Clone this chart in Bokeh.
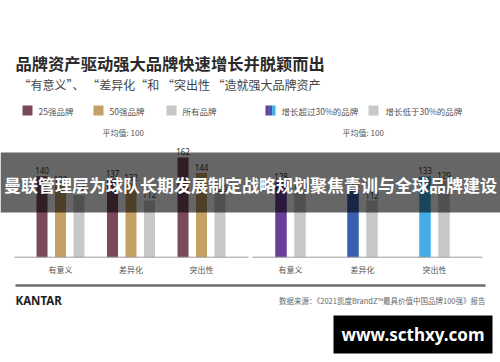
from bokeh.plotting import figure
from bokeh.models import Range1d, ColumnDataSource
from bokeh.transform import dodge
from bokeh.core.properties import value
from bokeh.embed import file_html
from bokeh.resources import INLINE

# ---------------- data ----------------
categories = ["有意义", "差异化", "突出性"]
top25 = [140, 137, 162]
top50 = [130, 132, 144]
all_brands = [118, 112, 120]
growth_over30 = [128, 122, 133]
growth_under30 = [120, 112, 129]
left_legend = ["25强品牌", "50强品牌", "所有品牌"]
right_legend = ["增长超过30%的品牌", "增长低于30%的品牌"]
average_label = "平均值: 100"

title = "品牌资产驱动强大品牌快速增长并脱颖而出"
subtitle = "“有意义”、 “差异化“和 “突出性 “造就强大品牌资产"
source_note = "数据来源：《2021凯度BrandZ™最具价值中国品牌100强》报告"
banner_text = "曼联管理层为球队长期发展制定战略规划聚焦青训与全球品牌建设"
watermark = "www.scthxy.com"

CJK = value("Noto Sans CJK SC")
C25, C50, CALL = "#7a4a5c", "#c4a064", "#c8c8c8"
CPUR, CBLU, CLBL = "#6a3f98", "#3a5fb0", "#45ade6"

# ---------------- canvas (page pixel coordinates) ----------------
W, H = 500, 362
p = figure(width=W, height=H, x_range=Range1d(0, W), y_range=Range1d(H, 0),
           output_backend="svg", toolbar_location=None, min_border=0,
           x_axis_location=None, y_axis_location=None,
           outline_line_color=None, background_fill_color="white")
p.grid.visible = False


def xspan(px0, px_per_unit):
    return Range1d((0 - px0) / px_per_unit, (W - px0) / px_per_unit)


def yspan(px_base, base_val, units_per_px):
    return Range1d(base_val - (H - px_base) * units_per_px,
                   base_val + px_base * units_per_px)


BASE_PX = 256.7
L_BASE, R_BASE = 46, 62.7
p.extra_x_ranges = {"lx": xspan(60, 70.5), "rx": xspan(290, 72)}
p.extra_y_ranges = {"ly": yspan(BASE_PX, L_BASE, 1.163), "ry": yspan(BASE_PX, R_BASE, 0.87)}

src = ColumnDataSource(dict(
    x=[0, 1, 2], cat=categories,
    t25=top25, t50=top50, tall=all_brands, g30=growth_over30, g_lo=growth_under30,
    c_g30=[CPUR, CBLU, CLBL],
    l25=[str(v) for v in top25], l50=[str(v) for v in top50], lall=[str(v) for v in all_brands],
    lg30=[str(v) for v in growth_over30], lglo=[str(v) for v in growth_under30],
))

lab_kw = dict(text_font=value("Noto Sans"), text_font_size="8px", text_color="#333333",
              text_align="center", text_baseline="bottom", y_offset=-2, source=src)

# left panel
for col, lab, off, color in [("t25", "l25", -0.262, C25), ("t50", "l50", 0.0, C50), ("tall", "lall", 0.262, CALL)]:
    p.vbar(x=dodge("x", off), width=0.156, bottom=L_BASE, top=col, fill_color=color,
           line_color=None, source=src, x_range_name="lx", y_range_name="ly")
    p.text(x=dodge("x", off), y=col, text=lab, x_range_name="lx", y_range_name="ly", **lab_kw)

# right panel
for col, lab, off, color in [("g30", "lg30", -0.132, "c_g30"), ("g_lo", "lglo", 0.132, CALL)]:
    p.vbar(x=dodge("x", off), width=0.16, bottom=R_BASE, top=col, fill_color=color,
           line_color=None, source=src, x_range_name="rx", y_range_name="ry")
    p.text(x=dodge("x", off), y=col, text=lab, x_range_name="rx", y_range_name="ry", **lab_kw)

# category labels
for rn in ["lx", "rx"]:
    p.text(x="x", y=269, text="cat", source=src, x_range_name=rn, text_font=CJK,
           text_font_size="8px", text_color="#555555", text_align="center", text_baseline="middle")

# baselines and divider
p.segment(x0=[14, 252], y0=[BASE_PX, BASE_PX], x1=[248, 482], y1=[BASE_PX, BASE_PX],
          line_color="#9a9a9a", line_width=1)
p.segment(x0=[15], y0=[285], x1=[485], y1=[285], line_color="#6e6e6e", line_width=2.5)

# title / subtitle
p.text(x=[15], y=[62], text=[title], text_font=CJK, text_font_size="16.3px",
       text_color="#2a2a2a", text_baseline="middle", text_font_style="bold")
p.text(x=[18], y=[84], text=[subtitle], text_font=CJK, text_font_size="12px",
       text_color="#444444", text_baseline="middle")

# legend
leg_x = [22, 93, 166]
p.quad(left=leg_x, right=[v + 10 for v in leg_x], top=[105] * 3, bottom=[115] * 3,
       fill_color=[C25, C50, CALL], line_color=None)
p.text(x=[v + 16 for v in leg_x], y=[110] * 3, text=left_legend, text_font=CJK,
       text_font_size="8.5px", text_color="#555555", text_baseline="middle")
p.quad(left=[265, 268.3, 271.6], right=[268.4, 271.7, 275], top=[105] * 3, bottom=[115] * 3,
       fill_color=[CPUR, CBLU, CLBL], line_color=None)
p.quad(left=[368], right=[378], top=[105], bottom=[115], fill_color=CALL, line_color=None)
p.text(x=[281, 385], y=[110, 110], text=right_legend, text_font=CJK,
       text_font_size="8.5px", text_color="#555555", text_baseline="middle")
p.text(x=[102, 342], y=[132, 132], text=[average_label] * 2, text_font=CJK,
       text_font_size="8px", text_color="#555555", text_baseline="middle")

# footer
p.text(x=[15], y=[300], text=["KANTAR"], text_font=value("Noto Sans"), text_font_size="11.5px",
       text_font_style="bold", text_color="#1e1e1e", text_baseline="middle")
p.text(x=[485], y=[300], text=[source_note], text_font=CJK, text_font_size="7.5px",
       text_color="#666666", text_align="right", text_baseline="middle")

# overlay banner
p.quad(left=[0], right=[W], top=[152], bottom=[212], fill_color="black", fill_alpha=0.6,
       line_color=None)
p.text(x=[250], y=[184], text=[banner_text], text_font=CJK, text_font_size="17px",
       text_font_style="bold", text_color="white", text_align="center", text_baseline="middle")

# watermark
p.quad(left=[333], right=[492], top=[315], bottom=[353], fill_color="black", line_color=None)
p.text(x=[412.5], y=[334], text=[watermark], text_font=value("Noto Sans"), text_font_size="17px",
       text_font_style="bold", text_color="white", text_align="center", text_baseline="middle")

open("out.html", "w").write(file_html(p, INLINE))
